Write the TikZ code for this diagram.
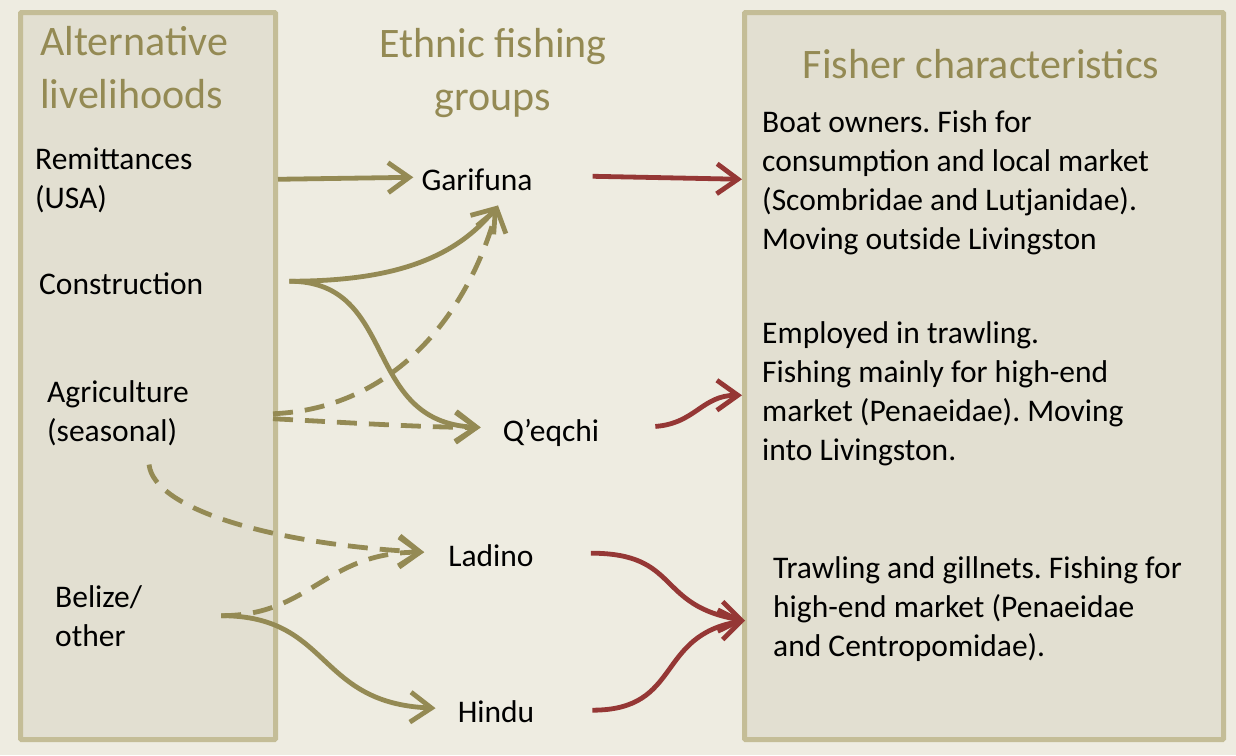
\documentclass[tikz,border=0pt]{standalone}
\usepackage{fontspec}
\setmainfont{Carlito}
\usepackage{xcolor}
\usepackage{tikz}
\usetikzlibrary{arrows.meta,positioning,calc}
\frenchspacing
\definecolor{tanbg}{HTML}{EEECE1}
\definecolor{panelfill}{HTML}{E2DFD1}
\definecolor{panelline}{HTML}{C4BD97}
\definecolor{olivetxt}{HTML}{948A54}
\definecolor{rustred}{HTML}{953735}
\tikzset{
  panel/.style={draw=panelline, fill=panelfill, line width=5pt, rounded corners=1pt},
  heading/.style={text=olivetxt, font=\fontsize{42}{53}\selectfont, inner sep=0pt},
  itemtext/.style={font=\fontsize{31.5}{39}\selectfont, align=left, inner sep=0pt},
  grouptext/.style={font=\fontsize{31.5}{39}\selectfont, inner sep=0pt},
  linkarrw/.style={-{Straight Barb[length=21pt,width=30pt]}, line width=4.8pt, draw=olivetxt},
  dlinkarrw/.style={linkarrw, dash pattern=on 20pt off 12pt},
  fisharrw/.style={-{Straight Barb[length=21pt,width=30pt]}, line width=4.8pt, draw=rustred},
}

\begin{document}
\begin{tikzpicture}[x=1pt, y=-1pt]
  \fill[tanbg] (0,0) rectangle (1236,755);
  \useasboundingbox (0,0) rectangle (1236,755);

  % the two panels
  \node[panel, anchor=north west, minimum width=255pt, minimum height=727pt] (altbox) at (18,10) {};
  \node[panel, anchor=north west, minimum width=479pt, minimum height=727pt] (fishbox) at (742,10) {};

  % multi-line nodes sit on the baseline of their last line
  \node[heading, anchor=base west, align=left] (althead) at (40,108) {Alternative\\livelihoods};
  \node[heading, anchor=base, align=center] (ethhead) at (493,110) {Ethnic fishing\\groups};
  \node[heading, anchor=base] (fishhead) at (981,78) {Fisher characteristics};

  % livelihoods
  \node[itemtext, anchor=base west] (rem) at (35,208) {Remittances\\(USA)};
  \node[itemtext, anchor=base west] (cons) at (39,294) {Construction};
  \node[itemtext, anchor=base west] (agri) at (47,441) {Agriculture\\(seasonal)};
  \node[itemtext, anchor=base west] (bel) at (55,646) {Belize/\\other};

  % ethnic groups
  \node[grouptext, anchor=base] (gar) at (477,190) {Garifuna};
  \node[grouptext, anchor=base] (qeq) at (551,441) {Q’eqchi};
  \node[grouptext, anchor=base] (lad) at (491,566) {Ladino};
  \node[grouptext, anchor=base] (hin) at (496,722) {Hindu};

  % fisher characteristics
  \node[itemtext, anchor=base west] (f1) at (762,249)
    {Boat owners. Fish for\\consumption and local market\\(Scombridae and Lutjanidae).\\Moving outside Livingston};
  \node[itemtext, anchor=base west] (f2) at (762,460)
    {Employed in trawling.\\Fishing mainly for high-end\\market (Penaeidae). Moving\\into Livingston.};
  \node[itemtext, anchor=base west] (f3) at (773,656)
    {Trawling and gillnets. Fishing for\\high-end market (Penaeidae\\and Centropomidae).};

  \coordinate (consout) at ($(cons.east)+(86,-2)$);
  \coordinate (belout) at ($(bel.east)+(79,0)$);

  \draw[linkarrw] (altbox.east |- gar) -- ($(gar.west)+(-8,-2)$);
  \draw[linkarrw] (consout) .. controls +(100,0) and +(-45,55) .. ($(gar.south)+(21,15)$);
  \draw[linkarrw] (consout) .. controls +(110,0) and +(-120,-5) .. ($(qeq.west)+(-22,-5)$);
  \draw[dlinkarrw] ($(altbox.east |- agri)+(-5,1)$) .. controls +(120,-5) and +(-30,110) .. ($(gar.south)+(21,15)$);
  \draw[dlinkarrw] ($(altbox.east |- agri)+(-5,6)$) .. controls +(60,3) and +(-60,0) .. ($(qeq.west)+(-22,-5)$);
  \draw[dlinkarrw] ($(agri.south)+(31,19)$) .. controls +(5,45) and +(-150,-8) .. ($(lad.west)+(-24,-3)$);
  \draw[dlinkarrw] (belout) .. controls +(90,0) and +(-100,0) .. ($(lad.west)+(-24,-3)$);
  \draw[linkarrw] (belout) .. controls +(110,0) and +(-120,-5) .. ($(hin.west)+(-22,-3)$);

  \draw[fisharrw] ($(gar.east)+(60,-3)$) -- (fishbox.west |- gar);
  \draw[fisharrw] ($(qeq.east)+(56,-6)$) .. controls +(40,-3) and +(-40,0) .. ($(fishbox.west |- f2)+(0,2)$);
  \draw[fisharrw] ($(lad.east)+(57,-2)$) .. controls +(90,0) and +(-90,-15) .. ($(fishbox.west |- f3)+(3,12)$);
  \draw[fisharrw] ($(hin.east)+(58,-1)$) .. controls +(90,0) and +(-90,15) .. ($(fishbox.west |- f3)+(3,12)$);
\end{tikzpicture}
\end{document}
